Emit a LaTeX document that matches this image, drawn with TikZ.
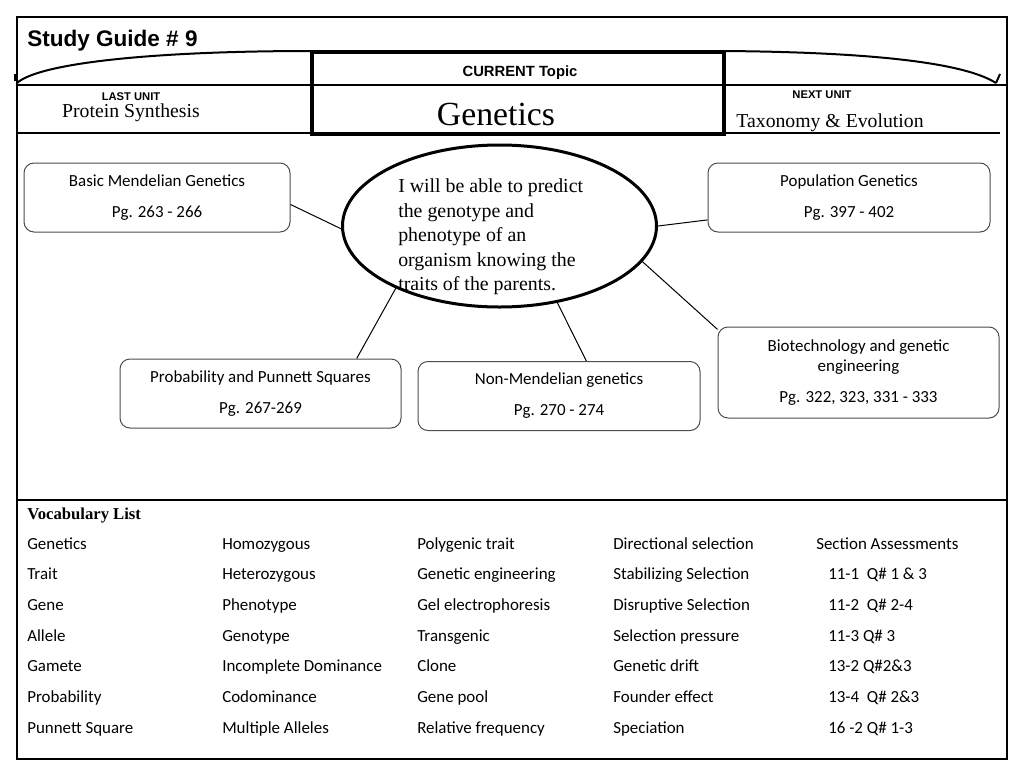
\documentclass[tikz,border=0pt]{standalone}
\usepackage{fontspec}
\setmainfont{Carlito}
\newfontfamily\arialf{Liberation Sans}
\newfontfamily\timesf{Liberation Serif}
\usetikzlibrary{shapes.geometric}
\begin{document}
\begin{tikzpicture}[x=0.75pt,y=-0.75pt,
  topicbox/.style={draw=black!70, line width=0.75pt, rounded corners=7.5pt, align=center,
    font=\fontsize{12.7}{15.3}\selectfont, inner sep=0pt},
  link/.style={draw=black, line width=0.75pt},
  vocab/.style={anchor=base west, inner sep=0pt, font=\fontsize{12.7}{15.3}\selectfont},
  frameline/.style={line width=1.5pt},
  hdr/.style={inner sep=0pt, anchor=base}]
\useasboundingbox (0,0) rectangle (1024,768);
% frame
\draw[frameline] (17,17) rectangle (1007,759);
\draw[line width=1.1pt] (17,85) -- (1007,85);
\draw[frameline] (17,133) -- (312,133);
\draw[frameline] (724,133) -- (1000,133);
\draw[frameline] (17,500) -- (1007,500);
% current topic box
\draw[line width=3pt] (312,52) rectangle (724,134);
% arcs
\draw[frameline] (17,83) .. controls (38,64) and (145,51) .. (312,51);
\draw[frameline] (724,51) .. controls (850,52) and (960,60) .. (996,83);
\draw[frameline] (996,83) -- (1000,74);
\draw[frameline] (15,74) -- (15,81);
% header texts
\node[hdr, anchor=base west, font=\arialf\bfseries\fontsize{16.9}{19}\selectfont] (title) at (27,46) {Study Guide \# 9};
\node[hdr, font=\arialf\bfseries\fontsize{11.1}{13}\selectfont] (cur) at (520,76) {CURRENT Topic};
\node[hdr, font=\timesf\fontsize{25.3}{28}\selectfont] (gen) at (496,125) {Genetics};
\node[hdr, font=\arialf\bfseries\fontsize{8.4}{10}\selectfont] (last) at (131,100) {LAST UNIT};
\node[hdr, font=\timesf\fontsize{14.8}{17}\selectfont] (prot) at (131,117) {Protein Synthesis};
\node[hdr, font=\arialf\bfseries\fontsize{8.4}{10}\selectfont] (next) at (822,98) {NEXT UNIT};
\node[hdr, font=\timesf\fontsize{14.8}{17}\selectfont] (tax) at (830,127) {Taxonomy \& Evolution};
% goal ellipse
\node[draw, ellipse, line width=2.25pt, minimum width={314*0.75pt}, minimum height={162*0.75pt}, inner sep=0pt] (goal) at (499.5,226) {};
\node[anchor=west, align=left, inner sep=0pt, font=\timesf\fontsize{14.9}{18.4}\selectfont] (goaltext) at (398,237)
  {I will be able to predict\\the genotype and\\phenotype of an\\organism knowing the\\traits of the parents.};
% topic boxes
\node[topicbox, minimum width={266*0.75pt}, minimum height={69*0.75pt}] (basic) at (157,197.5)
  {Basic Mendelian Genetics\\[8pt]Pg. 263 - 266};
\node[topicbox, minimum width={282*0.75pt}, minimum height={69*0.75pt}] (pop) at (849,197.5)
  {Population Genetics\\[8pt]Pg. 397 - 402};
\node[topicbox, minimum width={281*0.75pt}, minimum height={69*0.75pt}] (prob) at (260.5,393.5)
  {Probability and Punnett Squares\\[8pt]Pg. 267-269};
\node[topicbox, minimum width={282*0.75pt}, minimum height={69*0.75pt}] (nonm) at (559,396)
  {Non-Mendelian genetics\\[8pt]Pg. 270 - 274};
\node[topicbox, minimum width={281*0.75pt}, minimum height={91*0.75pt}] (bio) at (858.5,372.5)
  {Biotechnology and genetic\\engineering\\[8pt]Pg. 322, 323, 331 - 333};
% connectors
\draw[link] (basic.-3) -- (goal.181.5);
\draw[link] (pop.189) -- (goal.0);
\draw[link] (goal.211.2) -- (prob.20.5);
\draw[link] (goal.-53.1) -- (nonm.52.7);
\draw[link] (goal.-14.6) -- (bio.163.1);
% vocabulary
\node[anchor=base west, inner sep=0pt, font=\timesf\bfseries\fontsize{12.5}{15}\selectfont] (vtitle) at (27,519) {Vocabulary List};
\foreach \t [count=\i] in {Genetics,Trait,Gene,Allele,Gamete,Probability,Punnett Square}
  \node[vocab] (va\i) at (27,{549+30.7*(\i-1)}) {\t};
\foreach \t [count=\i] in {Homozygous,Heterozygous,Phenotype,Genotype,Incomplete Dominance,Codominance,Multiple Alleles}
  \node[vocab] (vb\i) at (222,{549+30.7*(\i-1)}) {\t};
\foreach \t [count=\i] in {Polygenic trait,Genetic engineering,Gel electrophoresis,Transgenic,Clone,Gene pool,Relative frequency}
  \node[vocab] (vc\i) at (417,{549+30.7*(\i-1)}) {\t};
\foreach \t [count=\i] in {Directional selection,Stabilizing Selection,Disruptive Selection,Selection pressure,Genetic drift,Founder effect,Speciation}
  \node[vocab] (vd\i) at (613,{549+30.7*(\i-1)}) {\t};
\node[vocab] (ve0) at (816,549) {Section Assessments};
\foreach \t [count=\i] in {11-1\ \ Q\# 1 \& 3,11-2\ \ Q\# 2-4,11-3 Q\# 3,13-2 Q\#2\&3,13-4\ \ Q\# 2\&3,16 -2 Q\# 1-3}
  \node[vocab] (ve\i) at (828,{549+30.7*\i}) {\t};
\end{tikzpicture}
\end{document}
